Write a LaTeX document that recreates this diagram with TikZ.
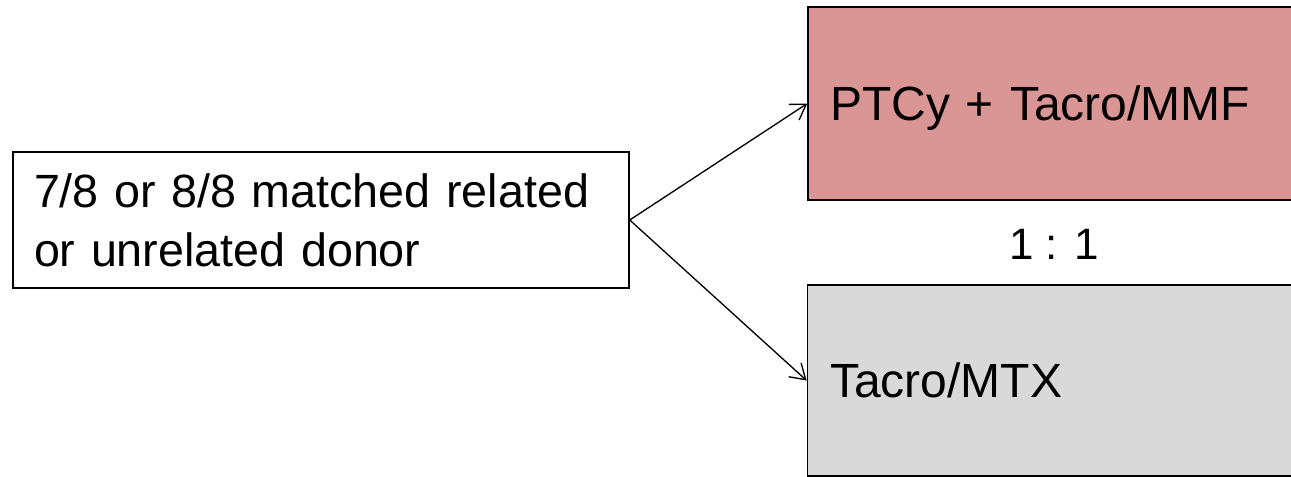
\documentclass[tikz,border=0pt]{standalone}
\usepackage{fontspec}
\setmainfont{Liberation Sans}
\usetikzlibrary{arrows.meta}
\definecolor{pinkfill}{RGB}{218,150,148}
\definecolor{greyfill}{RGB}{217,217,217}
\tikzset{
  box/.style={draw=black, line width=1.1pt, rectangle, inner ysep=0pt, align=left,
    font=\fontsize{36}{44}\selectfont},
  arr/.style={line width=1pt, -{Straight Barb[length=11pt,width=14pt,line width=1pt]}},
  lbl/.style={font=\fontsize{33}{40}\selectfont, inner sep=0pt}
}
\begin{document}
\begin{tikzpicture}[x=0.75pt,y=-0.75pt]
\useasboundingbox (0,0) rectangle (1291,476);
\node[box, fill=white, inner xsep=15.75pt, text width=430.5pt, minimum height=102pt,
  font=\fontsize{35}{44}\selectfont] (src) at (321,220)
  {7/8 or 8/8 matched related\\or unrelated donor};
\node[box, fill=pinkfill, inner xsep=16.5pt, text width=336pt, minimum height=144.75pt, text depth=0pt] (top) at (1054,103.5)
  {PTCy + Tacro/MMF};
\node[box, fill=greyfill, inner xsep=17pt, text width=336pt, minimum height=143.25pt] (bot) at (1054,380.5)
  {Tacro/MTX};
\node[lbl] (ratio) at (1054,244) {1 : 1};
\draw[arr] (src.east) -- (top.west);
\draw[arr] (src.east) -- (bot.west);
\end{tikzpicture}
\end{document}
